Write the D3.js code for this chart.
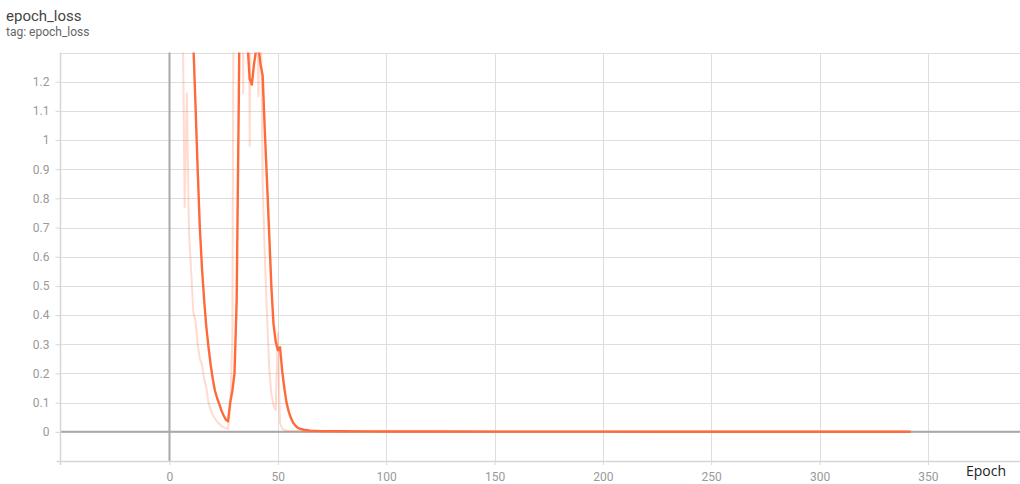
<!DOCTYPE html>
<html>
    <head>
        <title>epoch_loss</title>
        <meta charset="utf-8">
        <style>
            body{
                margin: 0;
                background-color: #fff;
                font-family: Roboto, "Noto Sans", sans-serif;
            }
            .grid line{
                stroke: #dedede;
                stroke-width: 1.2px;
                shape-rendering: crispEdges;
            }
            .axis text{
                fill: #999;
                font-size: 12px;
                font-family: Roboto, sans-serif;
            }
            .axis path, .axis line{
                stroke: #d6d6d6;
            }
        </style>
    </head>
    <body>
        <svg id="chart" width="1020" height="484"></svg>
        <script src="https://d3js.org/d3.v7.min.js"></script>
        <script>
            // raw loss per epoch (values above 1.3 are clipped in the picture)
            var rawEpochs = [0, 1, 2, 3, 4, 5, 6, 7, 8, 9, 10, 11, 12, 13, 14, 15, 16, 17, 18, 19,
                20, 21, 22, 23, 24, 25, 26, 27, 28, 29, 30, 31, 32, 33, 34, 35, 36, 37, 38, 39,
                40, 41, 42, 43, 44, 45, 46, 47, 48, 49, 50, 51, 52, 53, 54, 55,
                60, 65, 70, 80, 90, 100, 125, 150, 175, 200, 225, 250, 275, 300, 325, 342];
            var rawLoss = [5.2, 3.1, 2.4, 2.0, 1.9, 1.7, 1.5, 0.77, 1.16, 0.68, 0.55, 0.41, 0.38, 0.30, 0.25, 0.23, 0.18, 0.15, 0.10, 0.075,
                0.058, 0.045, 0.035, 0.027, 0.020, 0.015, 0.012, 0.010, 0.08, 0.31, 2.5, 3.5, 4.0, 3.0, 1.16, 3.0, 2.5, 0.98, 2.0, 2.5,
                1.8, 1.15, 1.6, 0.85, 0.60, 0.40, 0.22, 0.13, 0.09, 0.075, 0.34, 0.030, 0.012, 0.006, 0.004, 0.003,
                0.002, 0.0015, 0.0012, 0.001, 0.0009, 0.0008, 0.0006, 0.0005, 0.0005, 0.0004, 0.0004, 0.0003, 0.0003, 0.0003, 0.0002, 0.0002];

            // smoothed loss (the strong orange curve)
            var smoothEpochs = [0, 1, 2, 3, 4, 5, 6, 7, 8, 9, 10, 11, 12, 13, 14, 15, 16, 17, 18, 19,
                20, 21, 22, 23, 24, 25, 26, 27, 28, 29, 30, 31, 32, 33, 34, 35, 36, 37, 38, 39,
                40, 41, 42, 43, 44, 45, 46, 47, 48, 49, 50, 51, 52, 53, 54, 55, 56, 57, 58, 59, 60,
                62, 65, 70, 80, 90, 100, 125, 150, 175, 200, 225, 250, 275, 300, 325, 342];
            var smoothLoss = [5.2, 4.4, 3.7, 3.2, 2.8, 2.4, 2.15, 1.85, 1.75, 1.55, 1.45, 1.33, 1.12, 0.90, 0.70, 0.56, 0.45, 0.36, 0.29, 0.23,
                0.18, 0.14, 0.115, 0.095, 0.072, 0.056, 0.042, 0.036, 0.10, 0.14, 0.20, 0.45, 1.15, 2.0, 2.1, 1.7, 1.33, 1.21, 1.19, 1.26,
                1.31, 1.32, 1.26, 1.22, 1.03, 0.86, 0.68, 0.50, 0.37, 0.31, 0.28, 0.29, 0.21, 0.15, 0.10, 0.07, 0.048, 0.032, 0.022, 0.015, 0.011,
                0.007, 0.004, 0.0025, 0.0018, 0.0015, 0.0012, 0.001, 0.0008, 0.0007, 0.0006, 0.0005, 0.0005, 0.0004, 0.0004, 0.0003, 0.0003];

            var xTicks = [0, 50, 100, 150, 200, 250, 300, 350];
            var yTicks = [0, 0.1, 0.2, 0.3, 0.4, 0.5, 0.6, 0.7, 0.8, 0.9, 1, 1.1, 1.2];
            var yGridLines = [-0.1, 0, 0.1, 0.2, 0.3, 0.4, 0.5, 0.6, 0.7, 0.8, 0.9, 1, 1.1, 1.2, 1.3];

            var plotLeft = 60.5, plotRight = 1020, plotTop = 52.5, plotBottom = 461;

            var x = d3.scaleLinear().domain([-50.3, 392.5]).range([plotLeft, plotRight]);
            var y = d3.scaleLinear().domain([-0.1, 1.3]).range([plotBottom, plotTop]);

            var svg = d3.select("#chart");

            svg.append("text")
                .attr("x", 6)
                .attr("y", 21)
                .attr("font-size", "15px")
                .attr("fill", "#444")
                .text("epoch_loss");
            svg.append("text")
                .attr("x", 6)
                .attr("y", 36)
                .attr("font-size", "12px")
                .attr("fill", "#666")
                .text("tag: epoch_loss");

            // grid
            var grid = svg.append("g").classed("grid", true);
            grid.selectAll("line.h")
                .data(yGridLines)
                .enter()
                .append("line")
                .attr("class", "h")
                .attr("x1", plotLeft)
                .attr("x2", plotRight)
                .attr("y1", function(d){ return Math.round(y(d)) + 0.5; })
                .attr("y2", function(d){ return Math.round(y(d)) + 0.5; });
            grid.selectAll("line.v")
                .data(xTicks)
                .enter()
                .append("line")
                .attr("class", "v")
                .attr("x1", function(d){ return Math.round(x(d)) + 0.5; })
                .attr("x2", function(d){ return Math.round(x(d)) + 0.5; })
                .attr("y1", plotTop)
                .attr("y2", plotBottom);

            // zero lines
            svg.append("line")
                .attr("x1", x(0)).attr("x2", x(0))
                .attr("y1", plotTop).attr("y2", plotBottom)
                .attr("stroke", "#a9a9a9")
                .attr("stroke-width", 2);
            svg.append("line")
                .attr("x1", plotLeft).attr("x2", plotRight)
                .attr("y1", y(0)).attr("y2", y(0))
                .attr("stroke", "#a9a9a9")
                .attr("stroke-width", 2);

            // axes
            var xAxis = d3.axisBottom(x).tickValues(xTicks).tickSize(4).tickPadding(7).tickFormat(d3.format("d"));
            var gx = svg.append("g")
                .attr("class", "axis")
                .attr("transform", "translate(0," + plotBottom + ")")
                .call(xAxis);
            gx.select(".domain").remove();
            gx.append("line")
                .attr("x1", plotLeft - 4).attr("x2", plotRight)
                .attr("y1", 0.5).attr("y2", 0.5)
                .attr("stroke", "#d6d6d6")
                .attr("stroke-width", 1.5);

            var yAxis = d3.axisLeft(y).tickValues(yTicks).tickSize(5).tickPadding(6)
                .tickFormat(function(d){ return d3.format("~g")(d); });
            var gy = svg.append("g")
                .attr("class", "axis")
                .attr("transform", "translate(" + plotLeft + ",0)")
                .call(yAxis);
            gy.select(".domain").remove();
            gy.append("line")
                .attr("x1", 0).attr("x2", 0)
                .attr("y1", plotTop).attr("y2", plotBottom + 4)
                .attr("stroke", "#d6d6d6")
                .attr("stroke-width", 1.5);

            svg.append("text")
                .attr("x", 966)
                .attr("y", 476)
                .attr("font-size", "14px")
                .attr("font-family", "'Open Sans', sans-serif")
                .attr("fill", "#222")
                .text("Epoch");

            // lines
            svg.append("clipPath")
                .attr("id", "plotclip")
                .append("rect")
                .attr("x", plotLeft)
                .attr("y", plotTop)
                .attr("width", plotRight - plotLeft)
                .attr("height", plotBottom - plotTop);

            var rawData = rawEpochs.map(function(e, i){ return [e, rawLoss[i]]; });
            var smoothData = smoothEpochs.map(function(e, i){ return [e, smoothLoss[i]]; });

            var line = d3.line()
                .x(function(d){ return x(d[0]); })
                .y(function(d){ return y(d[1]); });

            var plot = svg.append("g").attr("clip-path", "url(#plotclip)");
            plot.append("path")
                .datum(rawData)
                .attr("d", line)
                .attr("fill", "none")
                .attr("stroke", "#ff7043")
                .attr("stroke-opacity", 0.25)
                .attr("stroke-width", 2)
                .attr("stroke-linejoin", "round");
            plot.append("path")
                .datum(smoothData)
                .attr("d", line)
                .attr("fill", "none")
                .attr("stroke", "#ff6a3a")
                .attr("stroke-width", 2.4)
                .attr("stroke-linejoin", "round");
        </script>
    </body>
</html>
